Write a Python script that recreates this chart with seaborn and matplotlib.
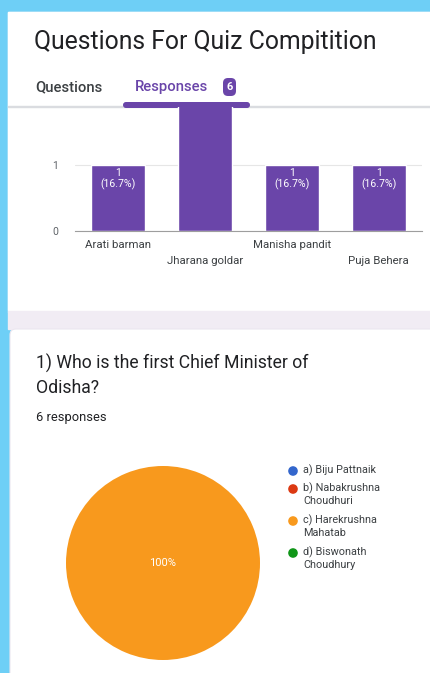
import matplotlib
matplotlib.use("Agg")
import matplotlib.pyplot as plt
from matplotlib.patches import Rectangle, FancyBboxPatch
import seaborn as sns

# ---- data ----
names = ["Arati barman", "Jharana goldar", "Manisha pandit", "Puja Behera"]
counts = [1, 3, 1, 1]

options = ["a) Biju Pattnaik", "b) Nabakrushna\nChoudhuri",
           "c) Harekrushna\nMahatab", "d) Biswonath\nChoudhury"]
votes = [0, 0, 6, 0]
option_colors = ["#3366cc", "#dc3912", "#f8991d", "#109618"]

form_title = "Questions For Quiz Compitition"
question = "1) Who is the first Chief Minister of\nOdisha?"
n_responses = 6

purple = "#6a45a9"

sns.set_theme(style="white")
plt.rcParams['font.family'] = ['Roboto', 'DejaVu Sans']

W, H = 431, 673
fig = plt.figure(figsize=(W / 100, H / 100), dpi=100)
fig.patch.set_facecolor("#6ecff6")

# background in pixel coordinates
bg = fig.add_axes([0, 0, 1, 1])
bg.set_xlim(0, W)
bg.set_ylim(H, 0)
bg.axis("off")
bg.add_patch(Rectangle((8, 12), W, 300, color="#f1ecf4", zorder=0))
bg.add_patch(Rectangle((8, 12), W, 298, color="white", zorder=1))
bg.add_patch(Rectangle((8, 311), W, 18, color="#f1ecf4", zorder=1))
bg.add_patch(FancyBboxPatch((10, 329), W, 400, boxstyle="round,pad=0,rounding_size=6",
                            fc="white", ec="#ebe6ef", lw=0.8, zorder=1))

bg.text(34, 42, form_title, fontsize=17.8, color="#202124", va="center", zorder=3)
bg.text(35, 87, "Questions", fontsize=10.6, color="#3c4043", va="center",
        fontweight="medium", zorder=3)
bg.text(135, 87, "Responses", fontsize=10.6, color=purple, va="center",
        fontweight="medium", zorder=3)
bg.add_patch(FancyBboxPatch((223, 78), 13, 18, boxstyle="round,pad=0,rounding_size=5",
                            fc=purple, ec="none", zorder=3))
bg.text(229.5, 87.5, str(n_responses), fontsize=8, color="white", ha="center",
        va="center", fontweight="bold", zorder=4)
bg.add_patch(FancyBboxPatch((123, 102), 127, 6, boxstyle="round,pad=0,rounding_size=3",
                            fc=purple, ec="none", zorder=3))
bg.add_patch(Rectangle((8, 105.5), W, 1.5, color="#dadce0", zorder=2))

bg.text(36, 375, question, fontsize=12.7, color="#202124", va="center",
        linespacing=1.42, zorder=3)
bg.text(36, 418, f"{n_responses} responses", fontsize=9.3, color="#202124",
        va="center", zorder=3)

# ---- bar chart ----
ax = fig.add_axes([75 / W, (H - 231) / H, 347 / W, 124 / H])
sns.barplot(x=names, y=counts, color=purple, width=0.62, saturation=1, ax=ax)
ax.set_ylim(0, 124 / 66)
ax.set_xlim(-0.5, len(names) - 0.5)
ax.set_facecolor("none")
for s in ["top", "right", "left"]:
    ax.spines[s].set_visible(False)
ax.spines["bottom"].set_color("#9e9e9e")
ax.spines["bottom"].set_linewidth(0.8)
ax.set_yticks([0, 1])
ax.yaxis.grid(True, color="#e6e6e6", lw=0.8)
ax.set_axisbelow(True)
ax.tick_params(axis="y", length=0, pad=12, labelsize=7.5, labelcolor="#5f6368")
ax.tick_params(axis="x", length=0, pad=6.5, labelsize=8.2, labelcolor="#3c4043")
ax.set_xticks(range(len(names)))
ax.set_xticklabels([("\n" if i % 2 else "") + n for i, n in enumerate(names)],
                   linespacing=1.7)
total = sum(counts)
for i, c in enumerate(counts):
    pct = f"{100 * c / total:.1f}".rstrip("0").rstrip(".")
    ax.annotate(f"{c}\n({pct}%)", (i, c), xytext=(0, -2.5), textcoords="offset points",
                ha="center", va="top", color="white", fontsize=7.6,
                linespacing=1.0, annotation_clip=True, clip_on=True)

# ---- pie ----
pax = fig.add_axes([66 / W, (H - 660) / H, 194 / W, 194 / H])
pax.pie(votes, colors=option_colors, counterclock=False, startangle=90,
        wedgeprops=dict(linewidth=0, edgecolor="none"),
        autopct=lambda p: f"{p:.0f}%" if p > 0 else "", pctdistance=0,
        textprops=dict(color="white", fontsize=8))
pax.set_xlim(-1, 1)
pax.set_ylim(-1, 1)
pax.set_aspect("equal")

# legend
y = 471
for lab, col in zip(options, option_colors):
    bg.scatter([293], [y], s=48, color=col, zorder=3, edgecolors="none")
    bg.text(303, y - 6, lab, fontsize=7.8, color="#3c4043", va="top",
            linespacing=1.2, zorder=3)
    y += lab.count("\n") * 14 + 18

fig.savefig("out.png", dpi=100)
